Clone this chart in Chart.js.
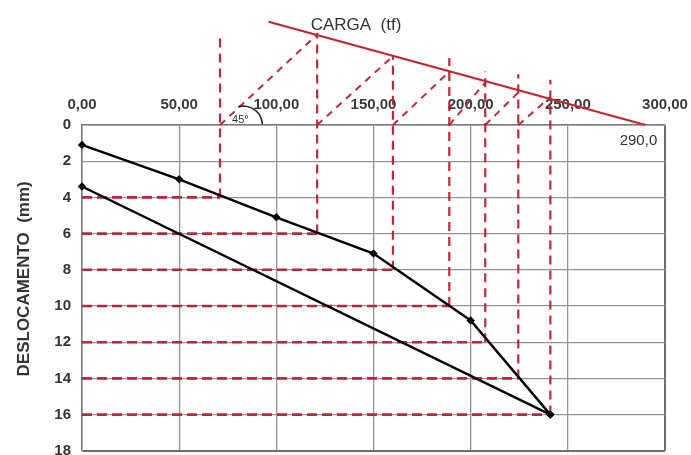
<!DOCTYPE html>
<html><head><meta charset="utf-8">
<script src="https://cdn.jsdelivr.net/npm/chart.js@4/dist/chart.umd.min.js"></script>
<style>html,body{margin:0;padding:0;background:#fff}canvas{display:block}</style>
</head><body>
<canvas id="c" width="691" height="455"></canvas>
<script>
// ---- Data ----
// Loading curve: load (tf) vs displacement (mm)
const loadCarga  = [0, 50, 100, 150, 200, 241];
const loadDesloc = [1.1, 3.0, 5.1, 7.1, 10.8, 16.0];
// Unloading branch
const unloadCarga  = [241, 0];
const unloadDesloc = [16.0, 3.4];
// Construction: equal displacement levels and the loads where they meet the curve
const levelDesloc = [4, 6, 8, 10, 12, 14, 16];
const levelCarga  = [71, 121, 160, 189, 207.5, 224.5, 241];
// Upper ends of the vertical construction lines (above the load axis)
const verticalTop = [-5.0, -5.1, -3.8, -3.7, -2.95, -2.8, -2.5];
// Heights reached by the 45° lines on the next vertical
const diagTop = [-5.0, -3.8, -2.95, -2.35, -1.8, -1.55];
// Straight line through the 45° intersections, meeting the load axis
const cargaLineCarga  = [96, 290];
const cargaLineDesloc = [-5.7, 0];
const rupturaLabel = '290,0';
// Axis ticks
const xTickValues = [0, 50, 100, 150, 200, 250, 300];
const yTickValues = [0, 2, 4, 6, 8, 10, 12, 14, 16, 18];

// ---- Styles ----
const RED = 'rgb(196,36,46)';
const RED_DASH = 'rgba(185,32,48,0.95)';
const FONT = '"Liberation Sans", Arial, sans-serif';

const pts = (xs, ys) => xs.map((x, i) => ({ x, y: ys[i] }));
const datasets = [];

datasets.push({
  label: 'Carregamento', data: pts(loadCarga, loadDesloc),
  borderColor: '#000', backgroundColor: '#000', borderWidth: 2.4,
  pointStyle: 'rectRot', pointRadius: 4.2, pointBorderWidth: 0, clip: false
});
datasets.push({
  label: 'Descarregamento', data: pts(unloadCarga, unloadDesloc),
  borderColor: '#000', backgroundColor: '#000', borderWidth: 2.4,
  pointStyle: 'rectRot', pointRadius: 4.2, pointBorderWidth: 0, clip: false
});
// fitted load line (solid red)
datasets.push({
  label: 'Carga', data: pts(cargaLineCarga, cargaLineDesloc),
  borderColor: RED, borderWidth: 2, pointRadius: 0, clip: false
});
// horizontal dashed lines
levelDesloc.forEach((lv, i) => datasets.push({
  label: 'h' + i, data: [{ x: 0, y: lv }, { x: levelCarga[i], y: lv }],
  borderColor: RED_DASH, borderWidth: 2.6, borderDash: [10, 5], pointRadius: 0, clip: false
}));
// vertical dashed lines
levelDesloc.forEach((lv, i) => datasets.push({
  label: 'v' + i, data: [{ x: levelCarga[i], y: lv }, { x: levelCarga[i], y: verticalTop[i] }],
  borderColor: RED_DASH, borderWidth: 2.2, borderDash: [9, 6], pointRadius: 0, clip: false
}));
// 45 degree dashed lines
diagTop.forEach((h, i) => datasets.push({
  label: 'd' + i, data: [{ x: levelCarga[i], y: 0 }, { x: levelCarga[i + 1], y: h }],
  borderColor: RED_DASH, borderWidth: 2, borderDash: [7, 6], pointRadius: 0, clip: false
}));

const textPlugin = {
  id: 'texts',
  afterDraw(chart) {
    const { ctx, scales: { x, y } } = chart;
    ctx.save();
    ctx.fillStyle = '#333';
    ctx.textBaseline = 'middle';
    // load axis title
    ctx.font = '17px ' + FONT;
    ctx.textAlign = 'center';
    ctx.fillText('CARGA  (tf)', x.getPixelForValue(141), y.getPixelForValue(-5.5));
    // ultimate load label
    ctx.font = '15px ' + FONT;
    ctx.textAlign = 'right';
    ctx.fillText(rupturaLabel, x.getPixelForValue(296), y.getPixelForValue(0.85));
    // 45° label and arc
    ctx.font = '11px ' + FONT;
    ctx.textAlign = 'center';
    ctx.fillText('45°', x.getPixelForValue(81.5), y.getPixelForValue(-0.3));
    ctx.strokeStyle = '#222';
    ctx.lineWidth = 1.6;
    ctx.beginPath();
    ctx.arc(x.getPixelForValue(83), y.getPixelForValue(0), 19, -1.85, -0.05);
    ctx.stroke();
    // displacement axis title
    ctx.font = 'bold 17px ' + FONT;
    ctx.translate(chart.chartArea.left - 58, y.getPixelForValue(8.5));
    ctx.rotate(-Math.PI / 2);
    ctx.textAlign = 'center';
    ctx.fillText('DESLOCAMENTO  (mm)', 0, 0);
    ctx.restore();
  }
};

new Chart(document.getElementById('c'), {
  type: 'line',
  data: { datasets },
  plugins: [textPlugin],
  options: {
    responsive: false, animation: false, devicePixelRatio: 1,
    layout: { padding: { left: 0, right: 26, top: 0, bottom: 4 } },
    plugins: { legend: { display: false }, tooltip: { enabled: false } },
    elements: { line: { tension: 0 } },
    scales: {
      x: {
        type: 'linear', position: 'top', min: 0, max: 300,
        afterBuildTicks: s => { s.ticks = xTickValues.map(v => ({ value: v })); },
        afterFit: s => { s.height = 125; s.paddingLeft = 0; s.paddingRight = 0; },
        ticks: {
          padding: 11, color: '#3a3a3a', font: { family: FONT, size: 15, weight: 'bold' },
          callback: v => v.toFixed(2).replace('.', ','), maxRotation: 0, autoSkip: false
        },
        grid: {
          drawTicks: false,
          color: c => (c.tick && c.tick.value === 300) ? '#6e6e6e' : '#939393',
          lineWidth: c => (c.tick && c.tick.value === 300) ? 2 : 1.3
        },
        border: { color: '#777', width: 1.5 }
      },
      y: {
        type: 'linear', position: 'left', reverse: true, min: 0, max: 18,
        afterBuildTicks: s => { s.ticks = yTickValues.map(v => ({ value: v })); },
        afterFit: s => { s.width = 82; s.paddingTop = 0; s.paddingBottom = 0; },
        ticks: {
          padding: 11, color: '#333', font: { family: FONT, size: 15, weight: 'bold' },
          callback: v => String(v), autoSkip: false
        },
        grid: {
          drawTicks: false,
          color: c => (c.tick && c.tick.value === 18) ? '#6e6e6e' : '#939393',
          lineWidth: c => (c.tick && c.tick.value === 18) ? 2 : 1.3
        },
        border: { color: '#777', width: 1.5 }
      }
    }
  }
});
</script>
</body></html>
